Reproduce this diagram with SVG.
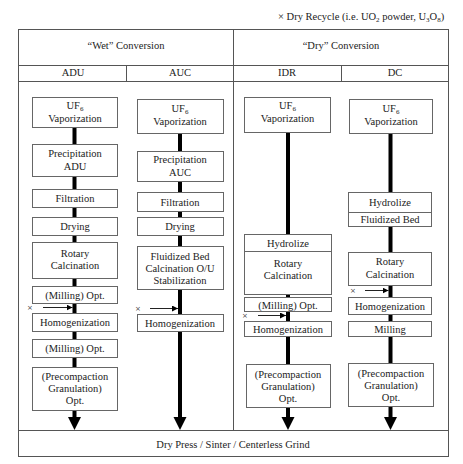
<svg xmlns="http://www.w3.org/2000/svg" width="463" height="464" viewBox="0 0 463 464" font-family="'Liberation Serif','Times New Roman',serif">
<defs>
<style>
.t{font-family:"Liberation Serif","Times New Roman",serif;font-size:10.5px;fill:#222;text-anchor:middle}
.ts{font-family:"Liberation Serif","Times New Roman",serif;font-size:10.5px;fill:#222}
.x{font-family:"DejaVu Sans",sans-serif;font-size:7px;fill:#444;text-anchor:middle}
.box{fill:#fff;stroke:#666;stroke-width:1}
.frame{fill:none;stroke:#555;stroke-width:1}
.sep{stroke:#666;stroke-width:1}
.flow{stroke:#000;stroke-width:4;fill:none}
.head{fill:#000}
.rec{stroke:#222;stroke-width:1;fill:none;marker-end:url(#ah)}
</style>
<marker id="ah" viewBox="0 0 6 6" refX="6" refY="3" markerWidth="6" markerHeight="6" markerUnits="userSpaceOnUse" orient="auto">
<path d="M0,0 L6,3 L0,6 Z" fill="#000"/>
</marker>
</defs>
<rect width="463" height="464" fill="#fff"/>

<text class="ts" x="278" y="20">× Dry Recycle (i.e. UO<tspan font-size="7" dy="2">2</tspan><tspan dy="-2"> powder, U</tspan><tspan font-size="7" dy="2">3</tspan><tspan dy="-2">O</tspan><tspan font-size="7" dy="2">8</tspan><tspan dy="-2">)</tspan></text>

<g id="frame">
<rect class="frame" x="18.5" y="29.5" width="430" height="427"/>
<line class="frame" x1="18" y1="65.5" x2="449" y2="65.5"/>
<line class="frame" x1="18" y1="81.5" x2="449" y2="81.5"/>
<line class="frame" x1="18" y1="430.5" x2="449" y2="430.5"/>
<line class="frame" x1="233.5" y1="29" x2="233.5" y2="430"/>
<line class="frame" x1="126.5" y1="65" x2="126.5" y2="81"/>
<line class="frame" x1="341.5" y1="65" x2="341.5" y2="81"/>
<text class="t" x="126" y="49">“Wet” Conversion</text>
<text class="t" x="341" y="49">“Dry” Conversion</text>
<text class="t" x="73" y="76">ADU</text>
<text class="t" x="180" y="76">AUC</text>
<text class="t" x="287" y="76">IDR</text>
<text class="t" x="395" y="76">DC</text>
<text class="t" x="233" y="448">Dry Press / Sinter / Centerless Grind</text>
</g>

<g id="connectors">
<line class="flow" x1="74.5" y1="127" x2="74.5" y2="418"/>
<polygon class="head" points="68,417 81,417 74.5,430"/>
<line class="flow" x1="180" y1="133" x2="180" y2="418"/>
<polygon class="head" points="173.5,417 186.5,417 180,430"/>
<line class="flow" x1="288" y1="132" x2="288" y2="418"/>
<polygon class="head" points="281.5,417 294.5,417 288,430"/>
<line class="flow" x1="390.5" y1="133" x2="390.5" y2="418"/>
<polygon class="head" points="384,417 397,417 390.5,430"/>
<g id="recycle">
<text class="x" x="30" y="310">×</text>
<line class="rec" x1="43" y1="307.5" x2="72.5" y2="307.5"/>
<text class="x" x="138" y="311">×</text>
<line class="rec" x1="150" y1="308.5" x2="178" y2="308.5"/>
<text class="x" x="245" y="318">×</text>
<line class="rec" x1="258" y1="315.5" x2="286" y2="315.5"/>
<text class="x" x="353" y="293">×</text>
<line class="rec" x1="365" y1="290.5" x2="388.5" y2="290.5"/>
</g>
</g>

<g id="adu">
<g id="adu-uf6"><rect class="box" x="32.5" y="97.5" width="85" height="30"/><text class="t" x="75" y="109">UF<tspan font-size="7" dy="2">6</tspan></text><text class="t" x="75" y="122">Vaporization</text></g>
<g id="adu-precip"><rect class="box" x="32.5" y="144.5" width="85" height="32"/><text class="t" x="75" y="157">Precipitation</text><text class="t" x="75" y="170">ADU</text></g>
<g id="adu-filt"><rect class="box" x="32.5" y="189.5" width="85" height="18"/><text class="t" x="75" y="202">Filtration</text></g>
<g id="adu-dry"><rect class="box" x="32.5" y="217.5" width="85" height="18"/><text class="t" x="75" y="230">Drying</text></g>
<g id="adu-calc"><rect class="box" x="32.5" y="242.5" width="85" height="36"/><text class="t" x="75" y="257">Rotary</text><text class="t" x="75" y="269">Calcination</text></g>
<g id="adu-mill1"><rect class="box" x="32.5" y="286.5" width="85" height="17"/><text class="t" x="75" y="299">(Milling) Opt.</text></g>
<g id="adu-homo"><rect class="box" x="32.5" y="313.5" width="85" height="18"/><text class="t" x="75" y="326">Homogenization</text></g>
<g id="adu-mill2"><rect class="box" x="32.5" y="339.5" width="85" height="18"/><text class="t" x="75" y="352">(Milling) Opt.</text></g>
<g id="adu-gran"><rect class="box" x="32.5" y="367.5" width="85" height="43"/><text class="t" x="75" y="380">(Precompaction</text><text class="t" x="75" y="392">Granulation)</text><text class="t" x="75" y="404">Opt.</text></g>
</g>

<g id="auc">
<g id="auc-uf6"><rect class="box" x="137.5" y="99.5" width="86" height="34"/><text class="t" x="180" y="112">UF<tspan font-size="7" dy="2">6</tspan></text><text class="t" x="180" y="125">Vaporization</text></g>
<g id="auc-precip"><rect class="box" x="137.5" y="151.5" width="86" height="30"/><text class="t" x="180" y="163">Precipitation</text><text class="t" x="180" y="176">AUC</text></g>
<g id="auc-filt"><rect class="box" x="137.5" y="192.5" width="86" height="19"/><text class="t" x="180" y="206">Filtration</text></g>
<g id="auc-dry"><rect class="box" x="137.5" y="217.5" width="86" height="18"/><text class="t" x="180" y="230">Drying</text></g>
<g id="auc-calc"><rect class="box" x="137.5" y="246.5" width="86" height="43"/><text class="t" x="180" y="260">Fluidized Bed</text><text class="t" x="180" y="272">Calcination O/U</text><text class="t" x="180" y="284">Stabilization</text></g>
<g id="auc-homo"><rect class="box" x="137.5" y="314.5" width="86" height="17"/><text class="t" x="180" y="327">Homogenization</text></g>
</g>

<g id="idr">
<g id="idr-uf6"><rect class="box" x="244.5" y="97.5" width="86" height="35"/><text class="t" x="287.5" y="109">UF<tspan font-size="7" dy="2">6</tspan></text><text class="t" x="287.5" y="122">Vaporization</text></g>
<g id="idr-calc"><rect class="box" x="244.5" y="234.5" width="87" height="60"/><line class="sep" x1="244.5" y1="251.5" x2="331.5" y2="251.5"/><text class="t" x="288" y="247">Hydrolize</text><text class="t" x="288" y="267">Rotary</text><text class="t" x="288" y="279">Calcination</text></g>
<g id="idr-mill"><rect class="box" x="244.5" y="297.5" width="87" height="14"/><text class="t" x="288" y="308.5">(Milling) Opt.</text></g>
<g id="idr-homo"><rect class="box" x="244.5" y="321.5" width="87" height="15"/><text class="t" x="288" y="333">Homogenization</text></g>
<g id="idr-gran"><rect class="box" x="246.5" y="364.5" width="84" height="43"/><text class="t" x="288" y="378">(Precompaction</text><text class="t" x="288" y="390">Granulation)</text><text class="t" x="288" y="402">Opt.</text></g>
</g>

<g id="dc">
<g id="dc-uf6"><rect class="box" x="349.5" y="99.5" width="83" height="34"/><text class="t" x="391" y="112">UF<tspan font-size="7" dy="2">6</tspan></text><text class="t" x="391" y="125">Vaporization</text></g>
<g id="dc-hyd"><rect class="box" x="348.5" y="192.5" width="83" height="34"/><line class="sep" x1="348.5" y1="212.5" x2="431.5" y2="212.5"/><text class="t" x="390" y="206">Hydrolize</text><text class="t" x="390" y="223">Fluidized Bed</text></g>
<g id="dc-calc"><rect class="box" x="348.5" y="252.5" width="83" height="33"/><text class="t" x="390" y="265">Rotary</text><text class="t" x="390" y="278">Calcination</text></g>
<g id="dc-homo"><rect class="box" x="348.5" y="297.5" width="83" height="17"/><text class="t" x="390" y="310">Homogenization</text></g>
<g id="dc-mill"><rect class="box" x="348.5" y="321.5" width="83" height="15"/><text class="t" x="390" y="333">Milling</text></g>
<g id="dc-gran"><rect class="box" x="348.5" y="363.5" width="85" height="43"/><text class="t" x="391" y="377">(Precompaction</text><text class="t" x="391" y="389">Granulation)</text><text class="t" x="391" y="401">Opt.</text></g>
</g>
</svg>
